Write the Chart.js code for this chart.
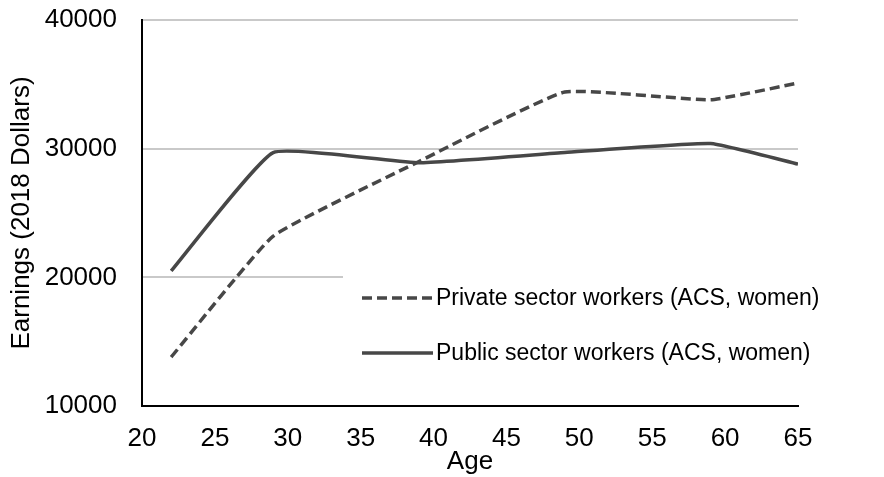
<!DOCTYPE html>
<html>
<head>
<meta charset="utf-8">
<script src="https://cdn.jsdelivr.net/npm/chart.js@4/dist/chart.umd.min.js"></script>
<style>
  html, body { margin: 0; padding: 0; background: #fff; }
  #wrap { width: 884px; height: 477px; position: relative; }
</style>
</head>
<body>
<div id="wrap"><canvas id="earningsChart"></canvas></div>
<script>
// Data
const ages = [22, 29, 39, 49, 59, 65];
const privateEarnings = [13800, 23200, 29000, 34400, 33800, 35100];
const publicEarnings = [20500, 29700, 28900, 29700, 30400, 28800];
const seriesLabels = ['Private sector workers (ACS, women)', 'Public sector workers (ACS, women)'];
const xTitle = 'Age';
const yTitle = 'Earnings (2018 Dollars)';

const lineColor = '#474747';
const textColor = '#000';
const fontFamily = '"Liberation Sans", Arial, sans-serif';

function toPoints(values) {
  return ages.map((a, i) => ({ x: a, y: values[i] }));
}

// White box behind the legend (hides part of the 20000 gridline) and the legend itself
const boxLegend = {
  id: 'boxLegend',
  beforeDatasetsDraw(chart) {
    const ctx = chart.ctx;
    ctx.save();
    ctx.fillStyle = '#fff';
    ctx.fillRect(343, 262, chart.chartArea.right - 343 + 2, 128);
    ctx.restore();
  },
  afterDraw(chart) {
    const ctx = chart.ctx;
    const rows = [298, 353];
    ctx.save();
    chart.data.datasets.forEach((ds, i) => {
      ctx.strokeStyle = ds.borderColor;
      ctx.lineWidth = ds.borderWidth;
      ctx.setLineDash(ds.borderDash || []);
      ctx.beginPath();
      ctx.moveTo(362, rows[i]);
      ctx.lineTo(433, rows[i]);
      ctx.stroke();
      ctx.setLineDash([]);
      ctx.fillStyle = textColor;
      ctx.font = '23px ' + fontFamily;
      ctx.textBaseline = 'middle';
      ctx.textAlign = 'left';
      ctx.fillText(ds.label, 436, rows[i] + 1);
    });
    ctx.restore();
  }
};

new Chart(document.getElementById('earningsChart'), {
  type: 'line',
  data: {
    datasets: [
      {
        label: seriesLabels[0],
        data: toPoints(privateEarnings),
        borderColor: lineColor,
        borderWidth: 3.5,
        borderDash: [10, 5],
        pointRadius: 0,
        tension: 0.12,
        fill: false
      },
      {
        label: seriesLabels[1],
        data: toPoints(publicEarnings),
        borderColor: lineColor,
        borderWidth: 3.5,
        pointRadius: 0,
        tension: 0.12,
        fill: false
      }
    ]
  },
  plugins: [boxLegend],
  options: {
    responsive: true,
    maintainAspectRatio: false,
    animation: false,
    layout: { padding: { top: 20, right: 86, left: 0, bottom: 0 } },
    plugins: {
      legend: { display: false },
      tooltip: { enabled: false }
    },
    scales: {
      x: {
        type: 'linear',
        min: 20,
        max: 65,
        afterFit: (s) => { s.height = 71; s.paddingLeft = 0; s.paddingRight = 0; },
        ticks: {
          stepSize: 5,
          color: textColor,
          font: { family: fontFamily, size: 26 },
          padding: 17,
          maxRotation: 0
        },
        grid: { display: false, drawTicks: false },
        border: { display: true, color: '#000', width: 2 },
        title: {
          display: true,
          text: xTitle,
          color: textColor,
          font: { family: fontFamily, size: 26 },
          padding: { top: 0, bottom: 0 }
        }
      },
      y: {
        min: 10000,
        max: 40000,
        afterFit: (s) => { s.width = 142; s.paddingTop = 0; s.paddingBottom = 0; },
        ticks: {
          stepSize: 10000,
          color: textColor,
          font: { family: fontFamily, size: 26 },
          padding: 25,
          callback: (v) => String(v)
        },
        grid: {
          color: (c) => (c.tick && c.tick.value === 10000 ? 'rgba(0,0,0,0)' : '#c9c9c9'),
          lineWidth: 2,
          drawTicks: false
        },
        border: { display: true, color: '#000', width: 2 },
        title: {
          display: true,
          text: yTitle,
          color: textColor,
          font: { family: fontFamily, size: 26 },
          padding: { top: 6, bottom: 0 }
        }
      }
    }
  }
});
</script>
</body>
</html>
